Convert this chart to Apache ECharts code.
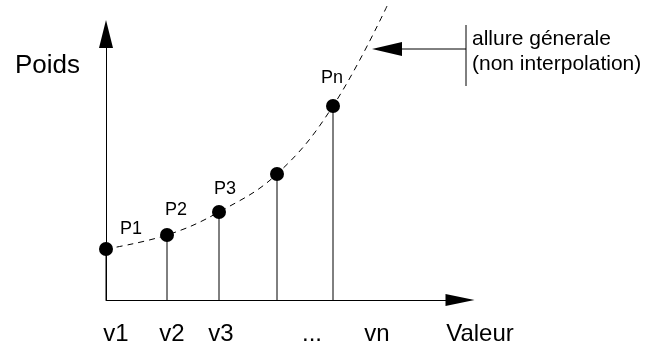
<!DOCTYPE html>
<html><head><meta charset="utf-8">
<script src="https://cdn.jsdelivr.net/npm/echarts@6/dist/echarts.min.js"></script>
<style>html,body{margin:0;padding:0;background:#fff}#c{width:651px;height:347px}</style>
</head><body><div id="c"></div>
<script>
// ---- data ----
const pointNames = ['P1', 'P2', 'P3', '', 'Pn'];
const pointX = [0, 6.1, 11.3, 17.1, 22.7];
const pointY = [5.1, 6.5, 8.8, 12.6, 19.4];
const curveX = [0, 6.1, 11.3, 17.1, 22.7, 28.2];
const curveY = [5.1, 6.5, 8.8, 12.6, 19.4, 29.6];
const tickValues = [1.0, 6.6, 11.5, 20.6, 27.1];
const tickLabels = ['v1', 'v2', 'v3', '...', 'vn'];
const xName = 'Valeur';
const yName = 'Poids';
const noteLines = ['allure génerale', '(non interpolation)'];
const noteAnchor = [26.6, 25.1];
const xMax = 35.4, yMax = 26.6;

// ---- styles ----
const labelOffsets = [[25, -20], [9, -25], [6, -23], [0, 0], [-1, -28]];
const FONT = 'Liberation Sans, Arial, sans-serif';

const chart = echarts.init(document.getElementById('c'), null, {renderer: 'canvas'});

const pts = pointX.map((x, i) => ({
  value: [x, pointY[i]],
  name: pointNames[i],
  label: {offset: labelOffsets[i]}
}));

chart.setOption({
  animation: false,
  backgroundColor: '#fff',
  grid: {left: 106, right: 191, top: 34, bottom: 47, containLabel: false, outerBoundsMode: 'none'},
  xAxis: {
    type: 'value', min: 0, max: xMax,
    name: xName, nameLocation: 'end', nameGap: 20, nameMoveOverlap: false,
    nameTextStyle: {color: '#000', fontSize: 24, fontFamily: FONT, align: 'center', verticalAlign: 'top', padding: [22, 0, 0, 0]},
    axisLine: {show: true, onZero: false, symbol: ['none', 'triangle'], symbolSize: [12, 29], lineStyle: {color: '#000', width: 1}},
    axisTick: {show: false},
    splitLine: {show: false},
    axisLabel: {
      customValues: tickValues, margin: 22, color: '#000', fontSize: 24, fontFamily: FONT,
      formatter: v => {
        let best = 0;
        tickValues.forEach((t, i) => { if (Math.abs(t - v) < Math.abs(tickValues[best] - v)) best = i; });
        return tickLabels[best];
      }
    }
  },
  yAxis: {
    type: 'value', min: 0, max: yMax,
    name: yName, nameLocation: 'end', nameGap: -32, nameMoveOverlap: false,
    nameTextStyle: {color: '#000', fontSize: 26, fontFamily: FONT, align: 'right', verticalAlign: 'middle', padding: [0, 26, 0, 0]},
    axisLine: {show: true, onZero: false, symbol: ['none', 'triangle'], symbolSize: [14, 28], lineStyle: {color: '#000', width: 1}},
    axisTick: {show: false},
    splitLine: {show: false},
    axisLabel: {show: false}
  },
  series: [
    {
      type: 'line', name: 'curve', data: curveX.map((x, i) => [x, curveY[i]]),
      smooth: 0.4, symbol: 'none', clip: false, z: 1,
      lineStyle: {color: '#000', width: 1, type: [6, 5]}
    },
    {
      type: 'custom', name: 'stems', data: pointX.map((x, i) => [x, pointY[i]]), clip: false, z: 2,
      renderItem: (params, api) => {
        const p0 = api.coord([api.value(0), 0]);
        const p1 = api.coord([api.value(0), api.value(1)]);
        return {type: 'line', shape: {x1: p0[0], y1: p0[1], x2: p1[0], y2: p1[1]}, style: {stroke: '#000', lineWidth: 1}};
      }
    },
    {
      type: 'scatter', name: 'points', data: pts, symbolSize: 14, clip: false, z: 3,
      itemStyle: {color: '#000', opacity: 1},
      emphasis: {disabled: true},
      label: {show: true, position: 'inside', formatter: p => p.name, color: '#000', fontSize: 18, fontFamily: FONT}
    }
  ]
});

const tip = chart.convertToPixel({gridIndex: 0}, noteAnchor);
chart.setOption({
  graphic: [
    {type: 'polygon', shape: {points: [[tip[0], tip[1]], [tip[0] + 30, tip[1] - 7], [tip[0] + 30, tip[1] + 7]]}, style: {fill: '#000'}},
    {type: 'line', shape: {x1: tip[0] + 30, y1: tip[1], x2: tip[0] + 94, y2: tip[1]}, style: {stroke: '#000', lineWidth: 1}},
    {type: 'line', shape: {x1: tip[0] + 94, y1: tip[1] - 24, x2: tip[0] + 94, y2: tip[1] + 37}, style: {stroke: '#000', lineWidth: 1}},
    {type: 'text', x: tip[0] + 100, y: tip[1] - 22, style: {text: noteLines.join('\n'), fill: '#000', font: '21px ' + FONT, lineHeight: 25, textVerticalAlign: 'top', verticalAlign: 'top'}}
  ]
});
</script>
</body></html>
